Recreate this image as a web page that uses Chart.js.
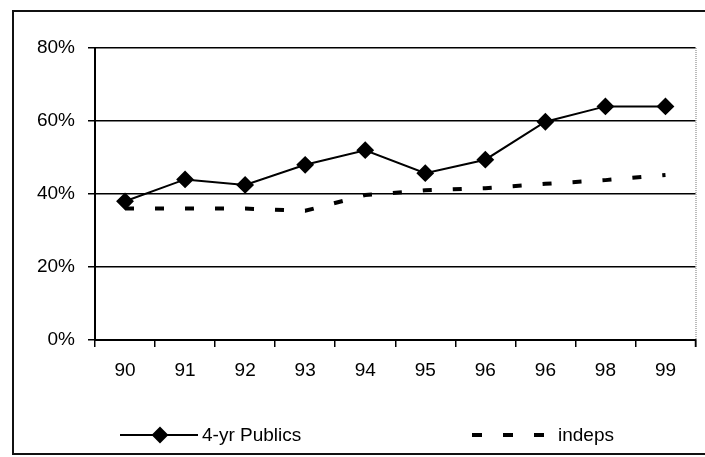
<!DOCTYPE html>
<html>
<head>
<meta charset="utf-8">
<script src="https://cdn.jsdelivr.net/npm/chart.js@4.4.0/dist/chart.umd.min.js"></script>
<style>
html,body{margin:0;padding:0;background:#fff;}
#wrap{position:relative;width:705px;height:457px;}
</style>
</head>
<body>
<div id="wrap"><canvas id="c" width="705" height="457"></canvas></div>
<script>
const categories = ["90","91","92","93","94","95","96","96","98","99"];
const publics = [38, 44, 42.5, 48, 52, 45.7, 49.4, 59.8, 64, 64];
const indeps = [36, 36, 36, 35.4, 39.7, 41, 41.6, 42.8, 43.8, 45.2];
const yTicks = [0, 20, 40, 60, 80];
const seriesNames = ["4-yr Publics", "indeps"];

const FONT = "'Liberation Sans', Arial, sans-serif";
const FSIZE = 19;

const framePlugin = {
  id: 'frame',
  afterDraw(chart) {
    const ctx = chart.ctx;
    const a = chart.chartArea;
    ctx.save();
    // outer frame
    ctx.strokeStyle = '#111';
    ctx.lineWidth = 2;
    ctx.strokeRect(13, 11, 705, 443);
    // right plot border (dotted, gray)
    ctx.strokeStyle = '#777';
    ctx.lineWidth = 1;
    ctx.setLineDash([1, 1]);
    ctx.beginPath();
    ctx.moveTo(a.right + 0.5, a.top);
    ctx.lineTo(a.right + 0.5, a.bottom);
    ctx.stroke();
    ctx.setLineDash([]);
    // right end tick
    ctx.strokeStyle = '#000';
    ctx.lineWidth = 1.5;
    ctx.beginPath();
    ctx.moveTo(a.right, a.bottom);
    ctx.lineTo(a.right, a.bottom + 7);
    ctx.stroke();

    // legend
    const ly = 435;
    const ds = chart.data.datasets;
    ctx.font = FSIZE + 'px ' + FONT;
    ctx.fillStyle = '#000';
    ctx.textBaseline = 'middle';
    ctx.textAlign = 'left';
    // series 1
    ctx.strokeStyle = ds[0].borderColor;
    ctx.lineWidth = ds[0].borderWidth;
    ctx.beginPath();
    ctx.moveTo(120, ly);
    ctx.lineTo(198, ly);
    ctx.stroke();
    Chart.helpers.drawPoint(ctx, {pointStyle: 'rectRot', radius: 7, borderWidth: 1}, 160, ly);
    ctx.fillStyle = '#000';
    ctx.fill();
    ctx.fillText(ds[0].label, 202, ly + 1);
    // series 2
    ctx.strokeStyle = ds[1].borderColor;
    ctx.lineWidth = ds[1].borderWidth;
    ctx.setLineDash([10, 21]);
    ctx.beginPath();
    ctx.moveTo(472, ly);
    ctx.lineTo(545, ly);
    ctx.stroke();
    ctx.setLineDash([]);
    ctx.fillText(ds[1].label, 558, ly + 1);
    ctx.restore();
  }
};

new Chart(document.getElementById('c'), {
  type: 'line',
  data: {
    labels: categories,
    datasets: [
      {
        label: seriesNames[0],
        data: publics,
        borderColor: '#000',
        backgroundColor: '#000',
        borderWidth: 2,
        pointStyle: 'rectRot',
        pointRadius: 7.5,
        pointBackgroundColor: '#000',
        pointBorderColor: '#000',
        tension: 0
      },
      {
        label: seriesNames[1],
        data: indeps,
        borderColor: '#000',
        backgroundColor: '#000',
        borderWidth: 4,
        borderDash: [9, 21],
        pointRadius: 0,
        tension: 0
      }
    ]
  },
  options: {
    responsive: false,
    animation: false,
    devicePixelRatio: 1,
    layout: { padding: { left: 0, top: 48, right: 6, bottom: 0 } },
    plugins: { legend: { display: false }, tooltip: { enabled: false } },
    scales: {
      x: {
        offset: true,
        grid: { offset: true, drawOnChartArea: false, drawTicks: true, tickLength: 7, color: '#000', lineWidth: 1.5 },
        border: { display: true, color: '#000', width: 2 },
        ticks: { color: '#000', font: { family: FONT, size: FSIZE }, padding: 12, maxRotation: 0, autoSkip: false },
        afterFit(s) { s.height = 117; }
      },
      y: {
        min: 0, max: 80,
        afterBuildTicks(s) { s.ticks = yTicks.map(v => ({ value: v })); },
        grid: { color: '#000', lineWidth: 1.5, tickLength: 7, drawTicks: true },
        border: { display: true, color: '#000', width: 2 },
        ticks: { color: '#000', font: { family: FONT, size: FSIZE }, padding: 13, callback: v => v + '%' },
        afterFit(s) { s.width = 95; }
      }
    }
  },
  plugins: [framePlugin]
});
</script>
</body>
</html>
